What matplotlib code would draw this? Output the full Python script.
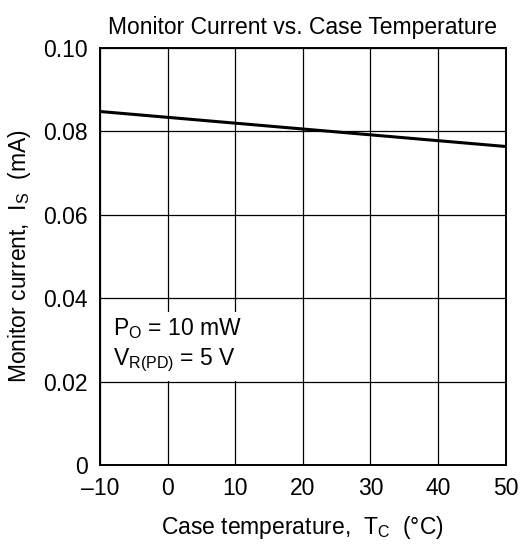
import matplotlib.pyplot as plt

plt.rcParams['font.family'] = ['Liberation Sans', 'DejaVu Sans']
plt.rcParams['mathtext.fontset'] = 'custom'
plt.rcParams['mathtext.rm'] = 'Liberation Sans'
plt.rcParams['mathtext.it'] = 'Liberation Sans'
plt.rcParams['mathtext.default'] = 'regular'

temp = [-10, 0, 10, 20, 30, 40, 50]
current = [0.0848, 0.0834, 0.0820, 0.0806, 0.0792, 0.0778, 0.0764]
xticks = [-10, 0, 10, 20, 30, 40, 50]
yticks = [0, 0.02, 0.04, 0.06, 0.08, 0.10]
yticklabels = ['0', '0.02', '0.04', '0.06', '0.08', '0.10']

fig = plt.figure(figsize=(5.23, 5.47), dpi=100)
ax = fig.add_axes([0.191, 0.150, 0.776, 0.762])

ax.plot(temp, current, color='black', lw=2.2)
ax.set_xlim(-10, 50)
ax.set_ylim(0, 0.10)
ax.set_xticks(xticks)
ax.set_xticklabels(['\u201310'] + [str(v) for v in xticks[1:]])
ax.set_yticks(yticks)
ax.set_yticklabels(yticklabels)
ax.grid(True, color='black', lw=0.9)
ax.tick_params(axis='x', length=0, labelsize=16.5, pad=9)
ax.tick_params(axis='y', length=0, labelsize=16.5, pad=9)
for s in ax.spines.values():
    s.set_linewidth(1.4)

ax.set_title('Monitor Current vs. Case Temperature', fontsize=16.5, pad=10)
ax.set_xlabel('Case temperature,  $T_C$  (°C)', fontsize=16.5, labelpad=10)
ax.set_ylabel('Monitor current,  $I_S$  (mA)', fontsize=16.5, labelpad=7)

box = dict(facecolor='white', edgecolor='none', pad=5)
ax.text(-8.0, 0.0240, '$P_O$ = 10 mW\n$V_{R(PD)}$ = 5 V', fontsize=16.5,
        va='baseline', ha='left', linespacing=1.3, bbox=box)

fig.savefig('out.png', dpi=100, facecolor='white')
